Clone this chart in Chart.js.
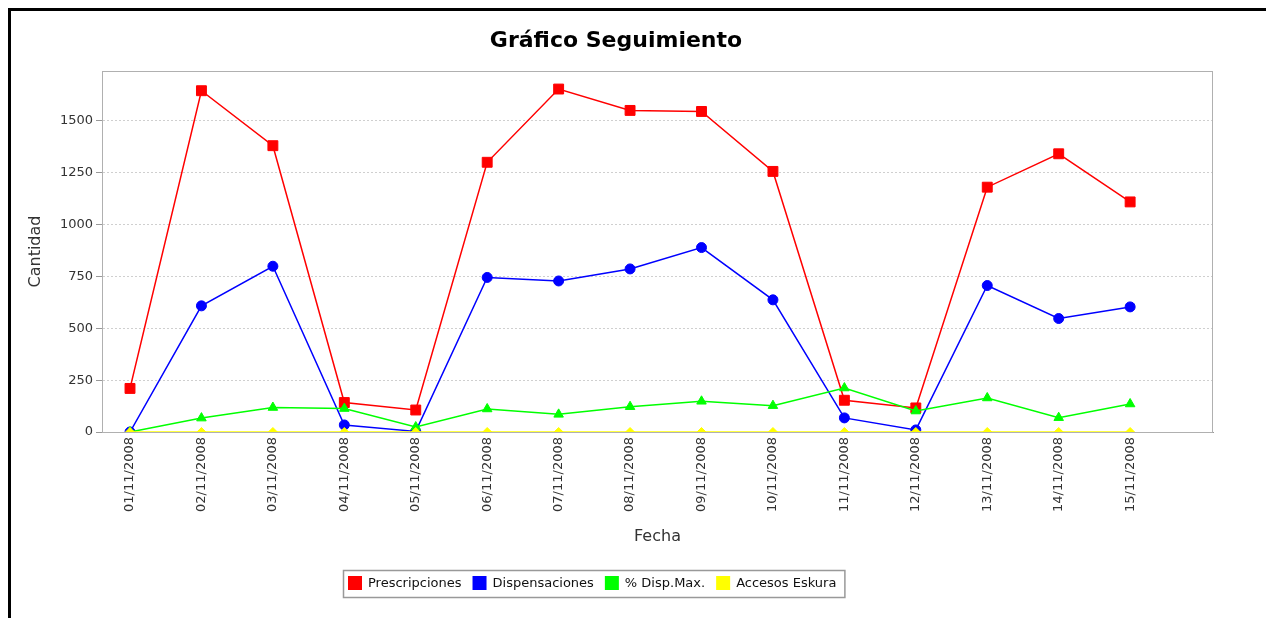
<!DOCTYPE html>
<html>
<head>
<meta charset="utf-8">
<script src="https://cdn.jsdelivr.net/npm/chart.js@4"></script>
<style>
  html, body { margin:0; padding:0; background:#fff; width:1269px; height:618px; overflow:hidden; }
  #frame { position:absolute; left:8px; top:8px; width:1255px; height:700px; border-left:3px solid #000; border-top:3px solid #000; pointer-events:none; }
  #wrap { position:absolute; left:0; top:0; width:1269px; height:618px; }
</style>
</head>
<body>
<div id="wrap"><canvas id="c" width="1269" height="618"></canvas></div>
<div id="frame"></div>
<script>
const chartTitle = 'Gráfico Seguimiento';
const fechas = ['01/11/2008','02/11/2008','03/11/2008','04/11/2008','05/11/2008','06/11/2008','07/11/2008','08/11/2008','09/11/2008','10/11/2008','11/11/2008','12/11/2008','13/11/2008','14/11/2008','15/11/2008'];
const prescripciones = [210, 1645, 1380, 142, 106, 1300, 1653, 1550, 1545, 1256, 153, 116, 1180, 1341, 1109];
const dispensaciones = [0, 608, 799, 34, 3, 745, 728, 786, 889, 637, 68, 10, 706, 547, 603];
const dispMax = [0, 67, 118, 113, 24, 111, 85, 122, 148, 127, 212, 101, 164, 69, 135];
const accesosEskura = [0, 0, 0, 0, 0, 0, 0, 0, 0, 0, 0, 0, 0, 0, 0];
const yTicks = [0, 250, 500, 750, 1000, 1250, 1500];

const FONT = 'DejaVu Sans';
Chart.defaults.font.family = FONT;

function pts(arr) { return arr.map((v, i) => ({ x: i, y: v })); }

const seriesDefs = [
  { label: 'Prescripciones', data: prescripciones, color: '#ff0000', style: 'rect', r: 7 },
  { label: 'Dispensaciones', data: dispensaciones, color: '#0000ff', style: 'circle', r: 5 },
  { label: '% Disp.Max.', data: dispMax, color: '#00ff00', style: 'triangle', r: 5.5 },
  { label: 'Accesos Eskura', data: accesosEskura, color: '#ffff00', style: 'rectRot', r: 4.5 }
];

const decorPlugin = {
  id: 'decor',
  beforeDatasetsDraw(chart) {
    const { ctx, chartArea: a } = chart;
    ctx.save();
    ctx.strokeStyle = '#b0b0b0';
    ctx.lineWidth = 1;
    ctx.strokeRect(a.left + 0.5, a.top + 0.5, a.right - a.left - 1, a.bottom - a.top);
    ctx.restore();
  },
  afterDraw(chart) {
    const { ctx } = chart;
    ctx.save();
    // title
    ctx.fillStyle = '#000';
    ctx.font = 'bold 22px "' + FONT + '"';
    ctx.textAlign = 'center';
    ctx.textBaseline = 'alphabetic';
    ctx.fillText(chartTitle, 616, 47);
    // legend
    ctx.font = '13px "' + FONT + '"';
    ctx.textAlign = 'left';
    ctx.textBaseline = 'middle';
    const x0 = 343, y0 = 570, h = 27;
    let x = x0 + 5;
    const items = chart.data.datasets.map(ds => {
      const w = ctx.measureText(ds.label).width;
      return { ds, w };
    });
    let total = 5;
    items.forEach((it, i) => { total += 14 + 6 + it.w + (i < items.length - 1 ? 11 : 8); });
    ctx.fillStyle = '#fff';
    ctx.fillRect(x0, y0, total, h);
    ctx.strokeStyle = '#999';
    ctx.lineWidth = 1.5;
    ctx.strokeRect(x0 + 0.5, y0 + 0.5, total, h);
    items.forEach((it) => {
      ctx.fillStyle = it.ds.borderColor;
      ctx.fillRect(x, y0 + 6, 14, 14);
      x += 20;
      ctx.fillStyle = '#111';
      ctx.fillText(it.ds.label, x, y0 + h / 2 + 0.5);
      x += it.w + 11;
    });
    ctx.restore();
  }
};

new Chart(document.getElementById('c'), {
  type: 'line',
  data: {
    datasets: seriesDefs.map((s, i) => ({
      label: s.label,
      data: pts(s.data),
      borderColor: s.color,
      backgroundColor: s.color,
      pointBackgroundColor: s.color,
      pointBorderColor: s.color,
      pointStyle: s.style,
      pointRadius: s.r,
      pointBorderWidth: 1,
      borderWidth: 1.5,
      tension: 0,
      fill: false,
      order: 3 - i
    }))
  },
  options: {
    responsive: false,
    animation: false,
    events: [],
    layout: { padding: { left: 22, right: 56, top: 71, bottom: 60 } },
    plugins: { legend: { display: false }, title: { display: false }, tooltip: { enabled: false } },
    scales: {
      x: {
        type: 'linear',
        min: -0.392,
        max: 15.16,
        afterBuildTicks: (scale) => { scale.ticks = fechas.map((f, i) => ({ value: i })); },
        afterFit: (scale) => { scale.height = 126; },
        ticks: {
          autoSkip: false,
          minRotation: 90,
          maxRotation: 90,
          padding: 5,
          color: '#333',
          font: { size: 13 },
          callback: (v) => fechas[v]
        },
        grid: { drawOnChartArea: false, drawTicks: false },
        border: { display: true, color: '#999', width: 1 },
        title: { display: true, text: 'Fecha', color: '#333', font: { size: 16 }, padding: { top: 4, bottom: 12 } }
      },
      y: {
        type: 'linear',
        min: 0,
        max: 1740,
        afterBuildTicks: (scale) => { scale.ticks = yTicks.map(v => ({ value: v })); },
        afterFit: (scale) => { scale.width = 80; },
        ticks: { padding: 3, color: '#333', font: { size: 13 }, callback: (v) => String(v) },
        grid: {
          color: (ctx) => ctx.tick && ctx.tick.value === 0 ? 'rgba(0,0,0,0)' : '#cfcfcf',
          lineWidth: 1,
          tickLength: 6,
          tickColor: '#999',
          tickBorderDash: []
        },
        border: { display: true, color: '#999', width: 1, dash: [2, 2] },
        title: { display: true, text: 'Cantidad', color: '#333', font: { size: 16 }, padding: { top: 4, bottom: 4 } }
      }
    }
  },
  plugins: [decorPlugin]
});
</script>
</body>
</html>
